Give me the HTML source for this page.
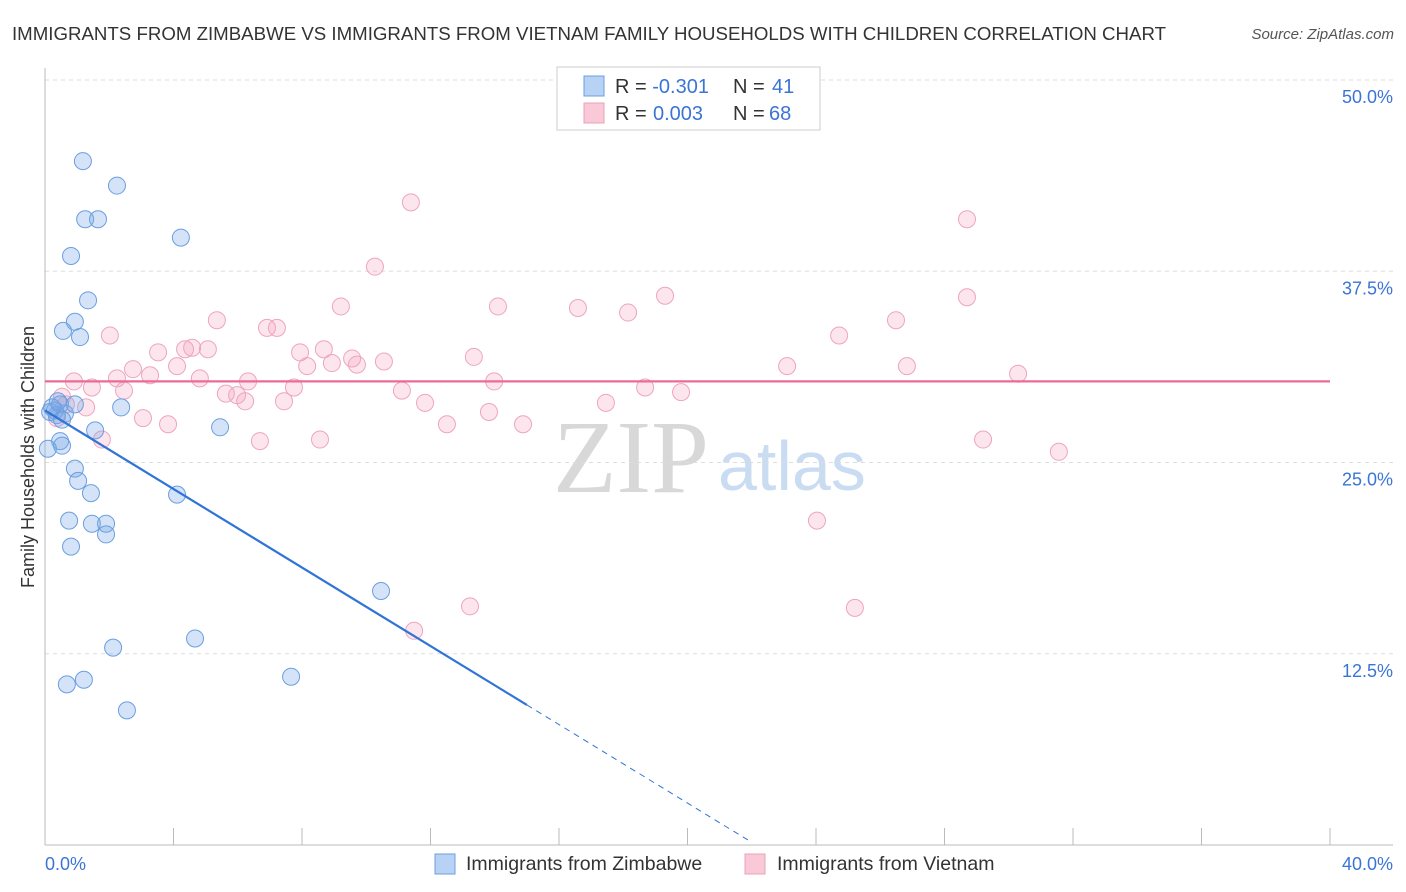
<!DOCTYPE html>
<html><head><meta charset="utf-8"><style>
body{margin:0;background:#fff;font-family:"Liberation Sans",sans-serif;}
#wrap{position:relative;width:1406px;height:892px;overflow:hidden;}
</style></head><body><div id="wrap">
<svg id="svg" width="1406" height="892" xmlns="http://www.w3.org/2000/svg">
<text x="12" y="40" font-size="18.6" fill="#333" textLength="1154" lengthAdjust="spacingAndGlyphs">IMMIGRANTS FROM ZIMBABWE VS IMMIGRANTS FROM VIETNAM FAMILY HOUSEHOLDS WITH CHILDREN CORRELATION CHART</text>
<text x="1394" y="39" font-size="15" fill="#555" font-style="italic" text-anchor="end">Source: ZipAtlas.com</text>
<text x="34" y="457" font-size="18" fill="#333" text-anchor="middle" transform="rotate(-90 34 457)">Family Households with Children</text>
<text x="553" y="492" font-size="104" fill="#d8d8d8" font-family="Liberation Serif, serif">ZIP</text>
<text x="718" y="490" font-size="70" fill="#c9dcf2">atlas</text>
<g id="grid"></g><g id="marks"></g><g id="lines"></g>
<rect x="557" y="67" width="263" height="63" fill="#fff" stroke="#ccc"/>
<rect x="584" y="76" width="20" height="20" fill="#b7d2f5" stroke="#6a9fe0"/>
<rect x="584" y="103" width="20" height="20" fill="#f9c9d8" stroke="#eca0bb"/>
<text x="615" y="93" font-size="20" fill="#333">R = <tspan fill="#3a75d6">-0.301</tspan><tspan x="733">N = </tspan><tspan fill="#3a75d6" x="772">41</tspan></text>
<text x="615" y="120" font-size="20" fill="#333">R = <tspan fill="#3a75d6" x="653">0.003</tspan><tspan x="733">N = </tspan><tspan fill="#3a75d6" x="769">68</tspan></text>
<rect x="435" y="854" width="20" height="20" fill="#b7d2f5" stroke="#6a9fe0"/>
<text x="466" y="870" font-size="19.5" fill="#333">Immigrants from Zimbabwe</text>
<rect x="745" y="854" width="20" height="20" fill="#f9c9d8" stroke="#eca0bb"/>
<text x="777" y="870" font-size="19.5" fill="#333">Immigrants from Vietnam</text>
</svg></div>
<script>
const yTicks=[12.5,25,37.5,50];
const yTickLabels=["12.5%","25.0%","37.5%","50.0%"];
const xTickCount=10;
const xLabels=["0.0%","40.0%"];
const blueX=[1.18,2.24,1.25,1.65,4.23,0.81,1.34,0.56,0.93,1.09,0.31,0.47,0.16,0.62,2.37,0.93,1.56,5.45,0.47,0.53,0.93,1.03,1.43,4.11,0.75,1.46,1.90,1.90,0.81,10.46,4.67,2.12,1.21,0.68,7.66,2.55,0.09,0.37,0.22,0.53,0.40];
const blueY=[44.7,43.1,40.9,40.9,39.7,38.5,35.6,33.6,34.2,33.2,28.4,28.8,28.3,28.2,28.6,28.8,27.1,27.3,26.4,26.1,24.6,23.8,23.0,22.9,21.2,21.0,21.0,20.3,19.5,16.6,13.5,12.9,10.8,10.5,11.0,8.8,25.9,28.1,28.6,27.8,29.0];
const pinkX=[11.39,28.70,10.27,19.30,28.70,9.21,14.10,16.59,18.15,5.35,26.49,6.91,7.22,2.02,24.72,4.58,5.07,3.52,4.36,7.94,8.68,9.56,10.55,13.35,8.16,8.93,9.71,4.11,23.10,26.83,2.74,3.27,30.29,2.24,0.90,4.82,6.32,13.98,1.46,18.68,7.75,11.11,2.46,19.80,5.63,5.98,6.23,7.44,0.53,0.65,1.28,11.83,17.46,13.82,3.05,3.83,12.51,14.88,0.37,1.77,6.69,8.56,29.20,31.56,24.03,13.23,25.21,11.49];
const pinkY=[42.0,40.9,37.8,35.9,35.8,35.2,35.2,35.1,34.8,34.3,34.3,33.8,33.8,33.3,33.3,32.5,32.4,32.2,32.4,32.2,32.4,31.8,31.6,31.9,31.3,31.5,31.4,31.3,31.3,31.3,31.1,30.7,30.8,30.5,30.3,30.5,30.3,30.3,29.9,29.9,29.9,29.7,29.7,29.6,29.5,29.4,29.0,29.0,29.3,28.8,28.6,28.9,28.9,28.3,27.9,27.5,27.5,27.5,27.9,26.5,26.4,26.5,26.5,25.7,21.2,15.6,15.5,14.0];
const blueTrend=[28.4,-1.283];
const blueSolidEnd=15.0, blueDashEnd=21.95;
const pinkTrend=[30.3,0];
const NS="http://www.w3.org/2000/svg";
const X=v=>45+v*32.125, Y=v=>845-v*15.3;
function mk(tag,attrs,parent){const e=document.createElementNS(NS,tag);for(const k in attrs)e.setAttribute(k,attrs[k]);document.getElementById(parent).appendChild(e);return e;}
const grid='grid';
yTicks.forEach((t,i)=>{
 const l=mk('line',{x1:45,x2:1393,y1:Y(t),y2:Y(t),stroke:'#ddd','stroke-dasharray':'4,4'},grid);
 
 
 const tx=mk('text',{x:1393,y:Y(t)+23,'font-size':18,fill:'#3a75d6','text-anchor':'end'},grid);
 tx.textContent=yTickLabels[i];
 
 
});
const ax=mk('line',{x1:45,x2:1393,y1:845,y2:845,stroke:'#bbb'},grid);


const ay=mk('line',{x1:45,x2:45,y1:68,y2:845,stroke:'#bbb'},grid);


for(let i=0;i<=xTickCount;i++){
 const t=mk('line',{x1:X(i*4),x2:X(i*4),y1:828,y2:845,stroke:'#bbb'},grid);
 
 
}
const xl0=mk('text',{x:45,y:870,'font-size':18,fill:'#3a75d6'},grid);xl0.textContent=xLabels[0];


const xl1=mk('text',{x:1393,y:870,'font-size':18,fill:'#3a75d6','text-anchor':'end'},grid);xl1.textContent=xLabels[1];


pinkX.forEach((v,i)=>{
 const c=mk('circle',{cx:X(v),cy:Y(pinkY[i]),r:8.5,fill:'rgba(244,160,190,0.28)',stroke:'#eea5bf','stroke-width':1},'marks');
 
 
});
blueX.forEach((v,i)=>{
 const c=mk('circle',{cx:X(v),cy:Y(blueY[i]),r:8.5,fill:'rgba(120,168,230,0.32)',stroke:'#6a9fe0','stroke-width':1},'marks');
 
 
});
const bf=x=>blueTrend[0]+blueTrend[1]*x;
const l1=mk('line',{x1:X(0),y1:Y(bf(0)),x2:X(blueSolidEnd),y2:Y(bf(blueSolidEnd)),stroke:'#2f74d6','stroke-width':2.2},'lines');


const l2=mk('line',{x1:X(blueSolidEnd),y1:Y(bf(blueSolidEnd)),x2:X(blueDashEnd),y2:Y(bf(blueDashEnd)),stroke:'#2f74d6','stroke-width':1,'stroke-dasharray':'6,5'},'lines');


const pf=x=>pinkTrend[0]+pinkTrend[1]*x;
const l3=mk('line',{x1:X(0),y1:Y(pf(0)),x2:X(40),y2:Y(pf(40)),stroke:'#ec6b93','stroke-width':2.2},'lines');


</script></body></html>
